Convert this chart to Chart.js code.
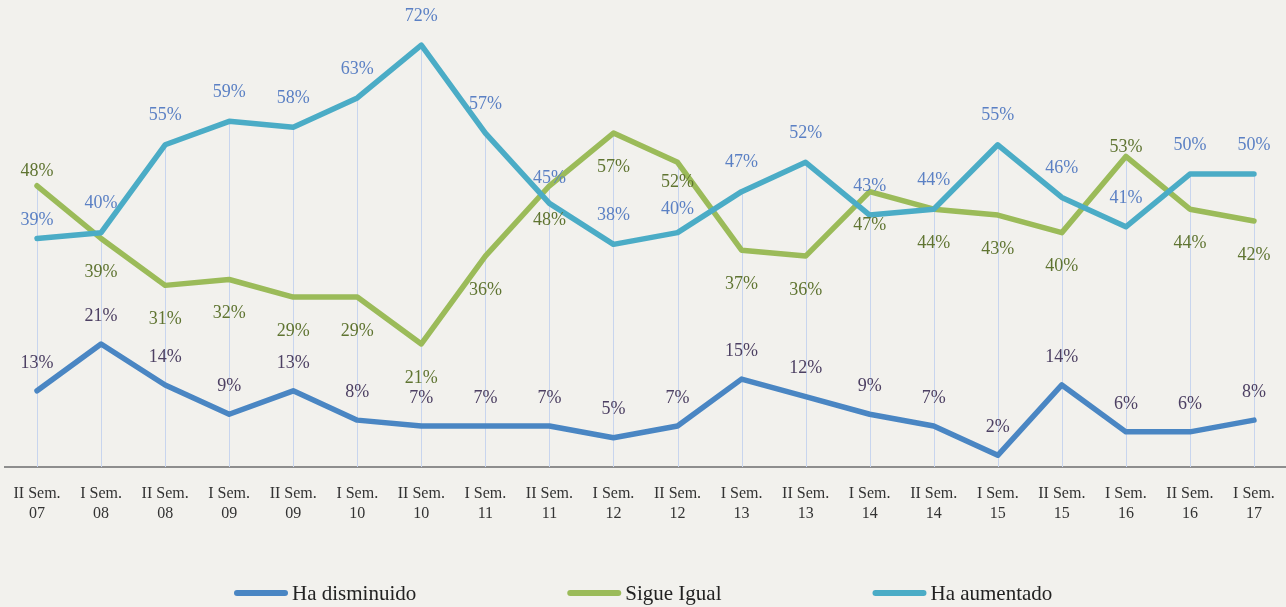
<!DOCTYPE html>
<html>
<head>
<meta charset="utf-8">
<script src="https://cdn.jsdelivr.net/npm/chart.js@4.4.1/dist/chart.umd.min.js"></script>
<style>
  html, body { margin: 0; padding: 0; background: #f2f1ed; }
  #wrap { width: 1286px; height: 607px; position: relative; }
</style>
</head>
<body>
<div id="wrap"><canvas id="c" width="1286" height="607"></canvas></div>
<script>
// ---- Data ----
const semesters = ['II Sem.','I Sem.','II Sem.','I Sem.','II Sem.','I Sem.','II Sem.','I Sem.','II Sem.','I Sem.',
                   'II Sem.','I Sem.','II Sem.','I Sem.','II Sem.','I Sem.','II Sem.','I Sem.','II Sem.','I Sem.'];
const years = ['07','08','08','09','09','10','10','11','11','12','12','13','13','14','14','15','15','16','16','17'];

const haDisminuido = [13,21,14,9,13,8,7,7,7,5,7,15,12,9,7,2,14,6,6,8];
const sigueIgual   = [48,39,31,32,29,29,21,36,48,57,52,37,36,47,44,43,40,53,44,42];
const haAumentado  = [39,40,55,59,58,63,72,57,45,38,40,47,52,43,44,55,46,41,50,50];

const seriesNames = ['Ha disminuido','Sigue Igual','Ha aumentado'];

// ---- Label placement (style, px offsets from point) ----
const dyDisminuido = haDisminuido.map(() => -28);
const dyIgual = sigueIgual.map(() => 34);
dyIgual[0] = -15; dyIgual[10] = 20; dyIgual[17] = -9;
const dyAumentado = haAumentado.map(() => -29);
dyAumentado[0] = -18; dyAumentado[8] = -25; dyAumentado[10] = -23;

const categories = semesters.map((s, i) => [s, years[i]]);

const lineColors = ['#4a86c3', '#9bbb59', '#4bacc6'];
const labelColors = ['#4d4063', '#5f7431', '#5b80c4'];
const labelOffsets = [dyDisminuido, dyIgual, dyAumentado];

const dropLines = {
  id: 'dropLines',
  beforeDatasetsDraw(chart) {
    const { ctx, scales: { x, y } } = chart;
    ctx.save();
    ctx.strokeStyle = '#c8d5ee';
    ctx.lineWidth = 1;
    categories.forEach((_, i) => {
      const top = Math.max(haDisminuido[i], sigueIgual[i], haAumentado[i]);
      const px = Math.round(x.getPixelForValue(i)) + 0.5;
      ctx.beginPath();
      ctx.moveTo(px, y.getPixelForValue(top));
      ctx.lineTo(px, y.getPixelForValue(0));
      ctx.stroke();
    });
    ctx.restore();
  }
};

const valueLabels = {
  id: 'valueLabels',
  afterDatasetsDraw(chart) {
    const { ctx } = chart;
    ctx.save();
    ctx.font = '18px "Liberation Serif", serif';
    ctx.textAlign = 'center';
    ctx.textBaseline = 'middle';
    chart.data.datasets.forEach((ds, di) => {
      const meta = chart.getDatasetMeta(di);
      ctx.fillStyle = labelColors[di];
      meta.data.forEach((pt, i) => {
        ctx.fillText(ds.data[i] + '%', pt.x, pt.y + labelOffsets[di][i]);
      });
    });
    ctx.restore();
  }
};

const customLegend = {
  id: 'customLegend',
  afterDraw(chart) {
    const { ctx } = chart;
    ctx.save();
    ctx.font = '21px "Liberation Serif", serif';
    ctx.textBaseline = 'middle';
    ctx.textAlign = 'left';
    let x = 234;
    const y = 593;
    seriesNames.forEach((name, i) => {
      ctx.strokeStyle = lineColors[i];
      ctx.lineWidth = 6;
      ctx.lineCap = 'round';
      ctx.beginPath();
      ctx.moveTo(x + 3, y);
      ctx.lineTo(x + 51, y);
      ctx.stroke();
      ctx.fillStyle = '#222222';
      ctx.fillText(name, x + 58, y + 1);
      x += 58 + ctx.measureText(name).width + 151;
    });
    ctx.restore();
  }
};

new Chart(document.getElementById('c'), {
  type: 'line',
  data: {
    labels: categories,
    datasets: [
      { label: seriesNames[0], data: haDisminuido, borderColor: lineColors[0], order: 2 },
      { label: seriesNames[1], data: sigueIgual,   borderColor: lineColors[1], order: 1 },
      { label: seriesNames[2], data: haAumentado,  borderColor: lineColors[2], order: 0 }
    ].map(d => Object.assign(d, {
      borderWidth: 5.5, pointRadius: 0, pointHoverRadius: 0, tension: 0,
      borderJoinStyle: 'round', borderCapStyle: 'round', fill: false
    }))
  },
  options: {
    responsive: false,
    animation: false,
    layout: { padding: { left: 5, right: -5, top: 10, bottom: 74 } },
    plugins: { legend: { display: false }, tooltip: { enabled: false } },
    scales: {
      x: {
        offset: true,
        grid: { display: false },
        border: { display: true, color: '#8e8e8e', width: 2 },
        ticks: {
          autoSkip: false, maxRotation: 0, minRotation: 0, padding: 9,
          color: '#333333',
          font: { family: '"Liberation Serif", serif', size: 16, lineHeight: 1.25 }
        }
      },
      y: { display: false, min: 0, max: 78 }
    }
  },
  plugins: [dropLines, valueLabels, customLegend]
});
</script>
</body>
</html>
